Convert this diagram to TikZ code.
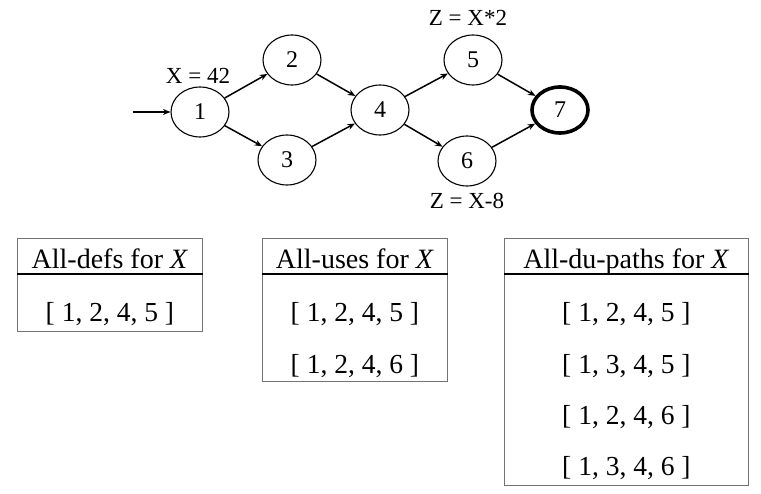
\documentclass[tikz,border=0pt]{standalone}
\usepackage{fontspec}
\setmainfont{Liberation Serif}
\usetikzlibrary{arrows.meta,calc,shapes.geometric}

\begin{document}
\begin{tikzpicture}[x=1pt,y=-1pt,
    state/.style={ellipse, draw, line width=1.1pt, minimum width=58pt, minimum height=50pt, inner sep=0pt, font=\fontsize{24}{28}\selectfont},
    flow/.style={-{Stealth[length=7.5pt,width=6pt]}, line width=1.5pt},
    note/.style={font=\fontsize{23}{27}\selectfont, inner sep=0pt},
    tabbox/.style={draw=black!55, line width=0.8pt, minimum width=#1, anchor=north west},
    tabhead/.style={font=\fontsize{28}{32}\selectfont, inner sep=0pt, anchor=base},
    tabrow/.style={font=\fontsize{27.5}{32}\selectfont, inner sep=0pt, anchor=base}]
            \useasboundingbox (0,0) rectangle (761,494);
            % control flow graph
            \node[state] at (200,112) (n1) {1};
            \node[state] at (292,60) (n2) {2};
            \node[state] at (287,160) (n3) {3};
            \node[state] at (380,110) (n4) {4};
            \node[state] at (473,60) (n5) {5};
            \node[state] at (467,161) (n6) {6};
            \node[state, line width=3.6pt, minimum width=56pt, minimum height=46pt] at (560,110) (n7) {7};
            \coordinate (in) at (133,112);
            \draw[flow] (in) -- (n1);
            \draw[flow] (n1) -- (n2);
            \draw[flow] (n1) -- (n3);
            \draw[flow] (n2) -- (n4);
            \draw[flow] (n3) -- (n4);
            \draw[flow] (n4) -- (n5);
            \draw[flow] (n4) -- (n6);
            \draw[flow] (n5) -- (n7);
            \draw[flow] (n6) -- (n7);
            \node[note] at (198,76) (def1) {X = 42};
            \node[note] at (468,18) (use5) {Z = X*2};
            \node[note] at (467,201) (use6) {Z = X-8};
            % tables
            \node[tabbox=185pt, minimum height=93pt] at (17,238) (t1) {};
            \node[tabbox=185pt, minimum height=143pt] at (262,238) (t2) {};
            \node[tabbox=244pt, minimum height=247pt] at (504,238) (t3) {};
            \foreach \t in {1,2,3}
            \draw[line width=1.3pt] ($(t\t.north west)+(0,36)$) -- ($(t\t.north east)+(0,36)$);
            \node[tabhead] at ($(t1.north)+(0,31)$) (h1) {All-defs for \textit{X}};
            \node[tabhead] at ($(t2.north)+(0,31)$) (h2) {All-uses for \textit{X}};
            \node[tabhead] at ($(t3.north)+(0,31)$) (h3) {All-du-paths for \textit{X}};
            \node[tabrow] at ($(t1.north)+(0,84)$) (r11) {[ 1, 2, 4, 5 ]};
            \foreach \p [count=\k] in {{[ 1, 2, 4, 5 ]},{[ 1, 2, 4, 6 ]}}
            \node[tabrow] at ($(t2.north)+(0,84+51.3*\k-51.3)$) (r2\k) {\p};
            \foreach \p [count=\k] in {{[ 1, 2, 4, 5 ]},{[ 1, 3, 4, 5 ]},{[ 1, 2, 4, 6 ]},{[ 1, 3, 4, 6 ]}}
            \node[tabrow] at ($(t3.north)+(0,84+51.3*\k-51.3)$) (r3\k) {\p};
        \end{tikzpicture}
\end{document}
